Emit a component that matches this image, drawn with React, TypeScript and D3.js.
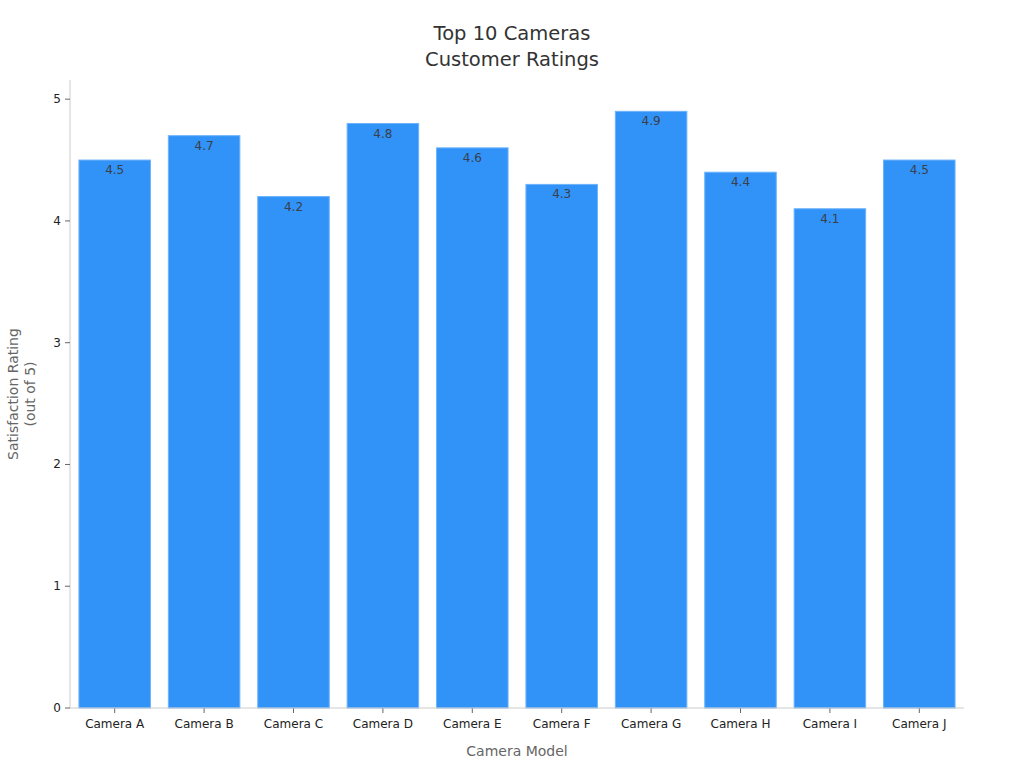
import React from "react";
import * as d3 from "d3";

const categories = ["Camera A", "Camera B", "Camera C", "Camera D", "Camera E", "Camera F", "Camera G", "Camera H", "Camera I", "Camera J"];
const ratings = [4.5, 4.7, 4.2, 4.8, 4.6, 4.3, 4.9, 4.4, 4.1, 4.5];
const yTicks = [0, 1, 2, 3, 4, 5];
const titleLines = ["Top 10 Cameras", "Customer Ratings"];

export default function App() {
  const W = 1024, H = 768;
  const left = 70, right = 964, top = 80, bottom = 708;
  const font = "DejaVu Sans, sans-serif";
  const x = d3.scaleBand<string>().domain(categories).range([left, right]).paddingInner(0.2).paddingOuter(0.1);
  const y = d3.scaleLinear().domain([0, 4.9 * 1.05]).range([bottom, 81.5]);
  return (
    <svg width={W} height={H} style={{ position: "absolute", left: 0, top: 0, background: "#fff" }} fontFamily={font}>
      {titleLines.map((t, i) => (
        <text key={t} x={512} y={40 + i * 26} textAnchor="middle" fontSize={19.5} fill="#333">{t}</text>
      ))}
      {categories.map((c, i) => (
        <g key={c}>
          <rect x={x(c)} y={y(ratings[i])} width={x.bandwidth()} height={bottom - y(ratings[i])} fill="#3192f7" stroke="#6db3fb" strokeWidth={1} />
          <text x={(x(c) as number) + x.bandwidth() / 2} y={y(ratings[i]) + 14} textAnchor="middle" fontSize={12} fill="#3a3f4a">{ratings[i]}</text>
          <line x1={(x(c) as number) + x.bandwidth() / 2} x2={(x(c) as number) + x.bandwidth() / 2} y1={bottom} y2={bottom + 5} stroke="#666" />
          <text x={(x(c) as number) + x.bandwidth() / 2} y={bottom + 20} textAnchor="middle" fontSize={12} fill="#222">{c}</text>
        </g>
      ))}
      <line x1={left} x2={left} y1={top} y2={bottom} stroke="#ccc" />
      <line x1={left} x2={right} y1={bottom} y2={bottom} stroke="#ccc" />
      {yTicks.map((t) => (
        <g key={t}>
          <line x1={left - 5} x2={left} y1={y(t)} y2={y(t)} stroke="#666" />
          <text x={left - 9} y={y(t) + 4} textAnchor="end" fontSize={12} fill="#222">{t}</text>
        </g>
      ))}
      <text x={517} y={756} textAnchor="middle" fontSize={14} fill="#666">Camera Model</text>
      <text transform="translate(18,394) rotate(-90)" textAnchor="middle" fontSize={14} fill="#666">
        <tspan x={0} dy={0}>Satisfaction Rating</tspan>
        <tspan x={0} dy={17}>(out of 5)</tspan>
      </text>
    </svg>
  );
}
